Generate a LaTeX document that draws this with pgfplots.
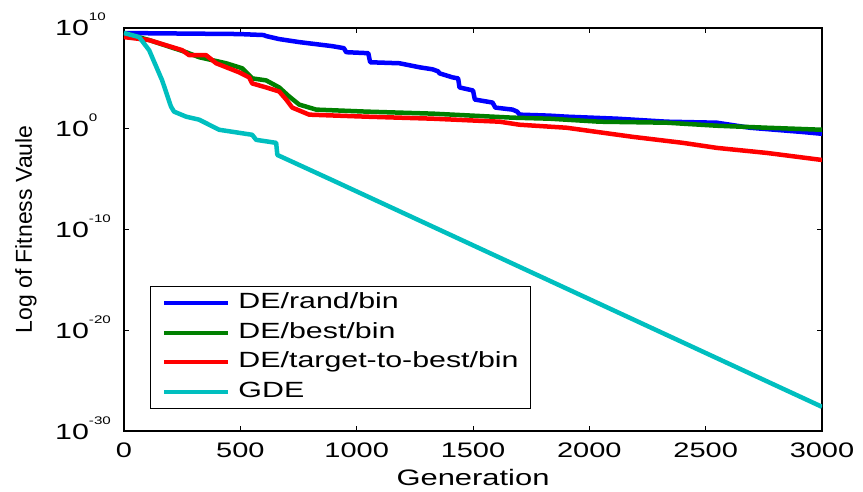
\documentclass[border=0pt]{standalone}
\usepackage{fontspec}
\setmainfont{Liberation Sans}
\newfontfamily\wf{Liberation Sans}[FakeStretch=1.38]
\usepackage{pgfplots}
\pgfplotsset{compat=1.18}
\definecolor{mblue}{RGB}{0,0,255}
\definecolor{mgreen}{RGB}{0,128,0}
\definecolor{mred}{RGB}{255,0,0}
\definecolor{mcyan}{RGB}{0,191,191}
\newcommand{\tl}[1]{10\raisebox{15pt}{\fontsize{11}{11}\selectfont #1}}
\begin{document}
\begin{tikzpicture}
\path[use as bounding box] (-124pt,-61pt) rectangle (739pt,431pt);
\begin{axis}[
  at={(0pt,0pt)}, anchor=south west,
  scale only axis, width=698pt, height=403pt,
  xmin=0, xmax=3000, ymode=log, ymin=1e-30, ymax=1e10,
  xtick={0,500,...,3000},
  ytick={1e-30,1e-20,1e-10,1,1e10},
  yticklabels={\tl{-30},\tl{-20},\tl{-10},\tl{0},\tl{10}},
  yminorticks=false,
  tick align=inside,
  major tick length=5pt,
  every tick/.style={black,line width=0.8pt},
  axis line style={black,line width=1.2pt},
  /pgf/number format/1000 sep={},
  /pgf/number format/assume math mode=true,
  xticklabel style={font=\wf\fontsize{21}{24}\selectfont, anchor=base, inner sep=0pt, yshift=-26pt},
  yticklabel style={font=\wf\fontsize{22}{24}\selectfont, anchor=base west, inner sep=0pt, xshift=-69pt, yshift=-8pt},
  xlabel={Generation},
  xlabel style={font=\wf\fontsize{22.4}{24}\selectfont, at={(axis description cs:0.5,0)}, anchor=base, inner sep=0pt, yshift=-54pt},
  ylabel={Log of Fitness Vaule},
  ylabel style={font=\fontsize{23}{24}\selectfont, at={(axis description cs:-0.1404,0.5)}, anchor=center, inner sep=0pt},
  legend cell align=left,
  legend image code/.code={\draw[#1,line width=4pt] (0pt,0pt) -- (64pt,0pt);},
  legend style={at={(rel axis cs:0.03725,0.3598)}, anchor=north west, draw=black, line width=1pt, fill=white,
    inner xsep=12pt, inner ysep=6pt, row sep=8.7pt, column sep=8pt,
    font=\wf\fontsize{22}{24}\selectfont,
    nodes={inner sep=0pt, text height=16pt, text depth=5pt}},
]
\addplot[mblue, line width=4.5pt, line join=round] coordinates {
(0,3.16e9) (495,2.51e9) (600,2.0e9) (611,1.58e9) (667,7.94e8) (753,3.98e8) (895,1.58e8)
(945,1.0e8) (955,3.98e7) (1050,3.16e7) (1058,3.98e6) (1184,3.16e6) (1270,1.26e6)
(1326,7.94e5) (1350,5.0e5) (1356,3.16e5) (1412,1.26e5) (1436,1.0e5) (1442,1.26e4)
(1500,6.31e3) (1508,7.94e2) (1584,3.98e2) (1596,1.26e2) (1670,79.4) (1690,50)
(1700,25.1) (1829,20.0) (1902,15.8) (2118,10) (2333,5.01) (2548,3.98)
(2690,1.26) (2905,0.501) (3000,0.316)};
\addlegendentry{DE/rand/bin}
\addplot[mgreen, line width=4.5pt, line join=round] coordinates {
(0,3.16e9) (108,6.31e8) (267,3.98e7) (323,1.26e7) (439,3.16e6) (508,1e6) (551,1e5)
(611,6.31e4) (667,1.26e4) (710,1.58e3) (753,251) (826,79.4) (1042,50.1) (1326,31.6)
(1670,12.6) (1829,10) (2044,5.01) (2333,3.98) (2548,2.0) (2763,1.26) (3000,0.794)};
\addlegendentry{DE/best/bin}
\addplot[mred, line width=4.5pt, line join=round] coordinates {
(0,1.26e9) (108,6.31e8) (250,6.31e7) (280,2.0e7) (353,2.0e7) (396,3.16e6) (495,3.98e5)
(538,1.26e5) (551,3.16e4) (611,1.26e4) (667,5.01e3) (697,794) (723,126) (796,25.1)
(1042,15.8) (1326,10) (1614,5.01) (1700,2.51) (1902,1.26) (2186,0.158) (2402,0.0398)
(2548,0.0126) (2763,3.98e-3) (3000,7.94e-4)};
\addlegendentry{DE/target-to-best/bin}
\addplot[mcyan, line width=4.5pt, line join=round] coordinates {
(0,3.16e9) (65,1.26e9) (108,6.31e7) (164,6.31e4) (202,158) (215,50.1) (267,15.8)
(323,7.94) (409,0.794) (551,0.251) (568,0.0794) (654,0.0398) (659,2.51e-3)
(895,7.94e-6) (3000,2.51e-28)};
\addlegendentry{GDE}
\end{axis}
\end{tikzpicture}
\end{document}
